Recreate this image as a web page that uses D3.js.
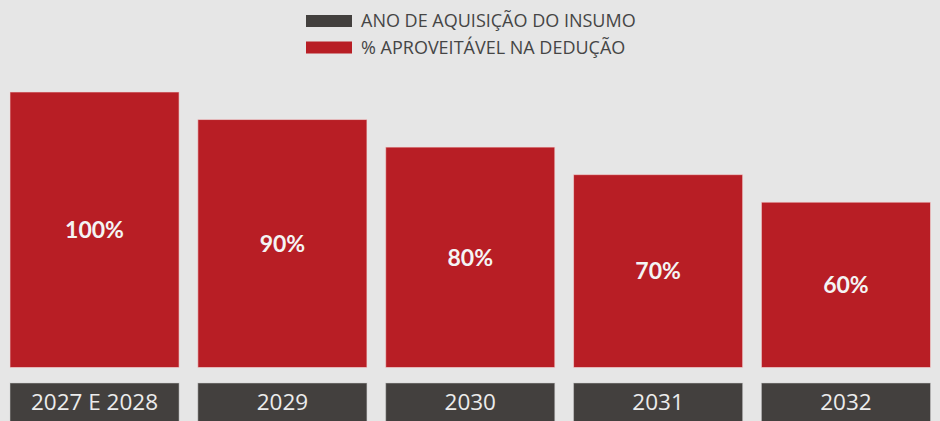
<!DOCTYPE html>
<html>
<head>
<meta charset="utf-8">
<script src="https://cdn.jsdelivr.net/npm/d3@7"></script>
<style>
  html, body { margin: 0; padding: 0; background: #e6e6e6; overflow: hidden; }
  svg { display: block; }
</style>
</head>
<body>
<div class="chart"></div>
<script>
// anos de aquisição e % aproveitável
const years = ['2027 E 2028', '2029', '2030', '2031', '2032'];
const shares = [100, 90, 80, 70, 60];
const legendLabels = ['ANO DE AQUISIÇÃO DO INSUMO', '% APROVEITÁVEL NA DEDUÇÃO'];

const width = 940;
const height = 421;
const red = '#b81e25';
const dark = '#43403e';

const svg = d3.select('.chart').append('svg')
    .attr('width', width)
    .attr('height', height)
    .attr('viewBox', [0, 0, width, height]);

svg.append('rect')
    .attr('width', width)
    .attr('height', height)
    .attr('fill', '#e6e6e6');

const x = d3.scaleBand()
    .domain(years)
    .range([10, 930.5])
    .paddingInner(0.1)
    .paddingOuter(0);

const y = d3.scaleLinear()
    .domain([0, 100])
    .range([367.5, 92]);

// legend
const legend = svg.append('g')
    .selectAll('g')
    .data(legendLabels)
    .join('g')
    .attr('transform', (d, i) => `translate(306, ${15 + i * 26.5})`);

legend.append('rect')
    .attr('width', 46)
    .attr('height', 12)
    .attr('fill', (d, i) => i == 0 ? dark : red);

legend.append('text')
    .attr('x', 55)
    .attr('y', 6)
    .attr('dy', '0.36em')
    .attr('fill', '#454545')
    .style('font-family', '"Open Sans", sans-serif')
    .style('font-size', '18px')
    .text(d => d);

// barras
const data = years.map((d, i) => ({year: d, value: shares[i]}));

svg.append('g')
    .selectAll('rect')
    .data(data)
    .join('rect')
    .attr('x', d => x(d.year))
    .attr('y', d => y(d.value))
    .attr('width', x.bandwidth())
    .attr('height', d => y(0) - y(d.value))
    .attr('fill', red)
    .attr('stroke', '#f3dada')
    .attr('stroke-opacity', 0.6)
    .attr('stroke-width', 1);

svg.append('g')
    .selectAll('text')
    .data(data)
    .join('text')
    .attr('x', d => x(d.year) + x.bandwidth() / 2)
    .attr('y', d => (y(d.value) + y(0)) / 2)
    .attr('dy', '0.36em')
    .attr('text-anchor', 'middle')
    .attr('fill', '#f4f4f4')
    .style('font-family', 'Lato, sans-serif')
    .style('font-weight', 'bold')
    .style('font-size', '23px')
    .text(d => d.value + '%');

// caixas dos anos
const yearBox = svg.append('g')
    .selectAll('g')
    .data(years)
    .join('g')
    .attr('transform', d => `translate(${x(d)}, 383)`);

yearBox.append('rect')
    .attr('width', x.bandwidth())
    .attr('height', 45)
    .attr('fill', dark)
    .attr('stroke', '#cfcfcf')
    .attr('stroke-opacity', 0.5);

yearBox.append('text')
    .attr('x', x.bandwidth() / 2)
    .attr('y', 19)
    .attr('dy', '0.36em')
    .attr('text-anchor', 'middle')
    .attr('fill', '#ececec')
    .style('font-family', '"Open Sans", sans-serif')
    .style('font-size', '22.5px')
    .text(d => d);
</script>
</body>
</html>
